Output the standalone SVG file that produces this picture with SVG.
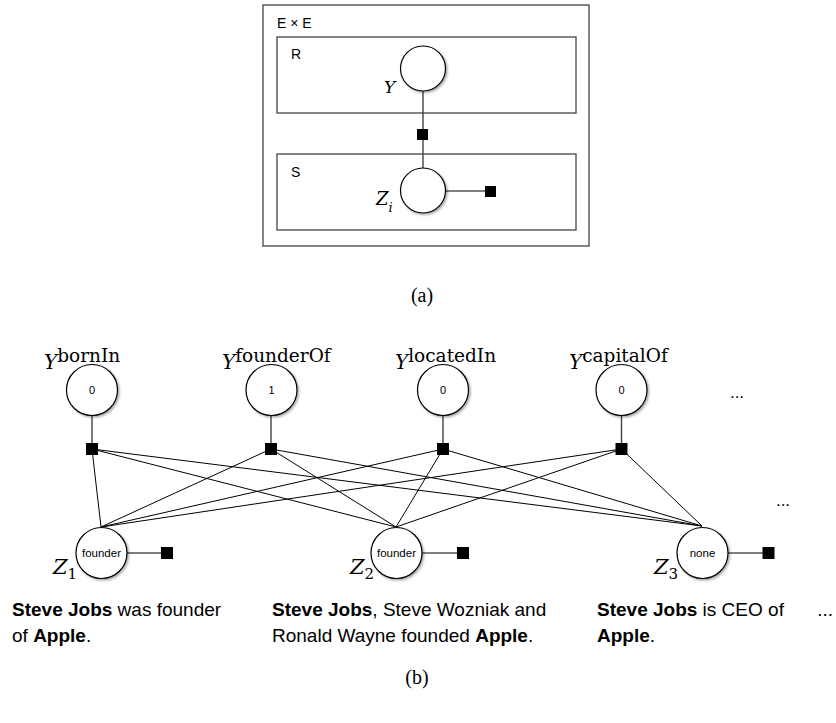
<svg xmlns="http://www.w3.org/2000/svg" width="836" height="723" viewBox="0 0 836 723">
  <style>
    .plate { fill: none; stroke: #444; stroke-width: 1.3; }
    .var { fill: #fff; stroke: #000; stroke-width: 1.2; filter: url(#shadow); }
    .fac { fill: #000; }
    .edge { stroke: #000; stroke-width: 1; fill: none; }
    .stem { stroke: #444; stroke-width: 1.4; fill: none; }
    .sans { font-family: "Liberation Sans", Arial, sans-serif; fill: #000; }
    .math { font-family: "DejaVu Serif", "Liberation Serif", serif; font-style: italic; fill: #000; }
    .up { font-family: "DejaVu Serif", "Liberation Serif", serif; font-style: normal; fill: #000; }
    .cap { font-family: "Liberation Serif", "Times New Roman", serif; font-size: 20px; fill: #000; }
    .b { font-weight: bold; }
  </style>
  <defs>
    <filter id="shadow" x="-30%" y="-30%" width="160%" height="160%">
      <feDropShadow dx="1.5" dy="1.5" stdDeviation="1" flood-color="#000" flood-opacity="0.35"/>
    </filter>
  </defs>
  <rect width="836" height="723" fill="#fff"/>

  <!-- (a) plate model -->
  <g id="plate-ExE">
    <rect class="plate" x="263" y="5" width="326" height="241"/>
    <text class="sans" x="277" y="28" font-size="14">E × E</text>
  </g>
  <g id="plate-R">
    <rect class="plate" x="277" y="37" width="299" height="76"/>
    <text class="sans" x="291" y="59" font-size="14">R</text>
  </g>
  <g id="plate-S">
    <rect class="plate" x="277" y="154" width="299" height="76"/>
    <text class="sans" x="291" y="177" font-size="14">S</text>
  </g>

  <g id="connectors-a">
    <line class="stem" x1="423" y1="91" x2="423" y2="168"/>
    <line class="edge" x1="446" y1="191" x2="490" y2="191"/>
  </g>

  <g id="node-Y">
    <circle class="var" cx="423" cy="68.5" r="22.5"/>
    <text class="math" x="384" y="93" font-size="17">Y</text>
  </g>
  <g id="factor-YZ">
    <rect class="fac" x="417" y="129" width="11" height="11"/>
  </g>
  <g id="node-Zi">
    <circle class="var" cx="423" cy="190.5" r="22.5"/>
    <text class="math" x="376" y="205" font-size="18">Z<tspan font-size="13" dy="7">i</tspan></text>
  </g>
  <g id="factor-Zi">
    <rect class="fac" x="485" y="186" width="11" height="11"/>
  </g>

  <text class="cap" x="422" y="302" text-anchor="middle">(a)</text>

  <!-- (b) unrolled factor graph -->
  <g id="connectors-b">
    <line class="stem" x1="92" y1="415" x2="92" y2="449"/>
    <line class="stem" x1="271" y1="415" x2="271" y2="449"/>
    <line class="stem" x1="443" y1="415" x2="443" y2="449"/>
    <line class="stem" x1="621.5" y1="415" x2="621.5" y2="449"/>

    <line class="edge" x1="92" y1="449" x2="101" y2="527"/>
    <line class="edge" x1="92" y1="449" x2="396" y2="527"/>
    <line class="edge" x1="92" y1="449" x2="702" y2="526"/>

    <line class="edge" x1="271" y1="449" x2="101" y2="527"/>
    <line class="edge" x1="271" y1="449" x2="396" y2="527"/>
    <line class="edge" x1="271" y1="449" x2="702" y2="526"/>

    <line class="edge" x1="443" y1="449" x2="101" y2="527"/>
    <line class="edge" x1="443" y1="449" x2="396" y2="527"/>
    <line class="edge" x1="443" y1="449" x2="702" y2="526"/>

    <line class="edge" x1="621.5" y1="449" x2="101" y2="527"/>
    <line class="edge" x1="621.5" y1="449" x2="396" y2="527"/>
    <line class="edge" x1="621.5" y1="449" x2="702" y2="526"/>

    <line class="edge" x1="127" y1="553" x2="167" y2="553"/>
    <line class="edge" x1="422" y1="553" x2="463" y2="553"/>
    <line class="edge" x1="728" y1="553" x2="768" y2="553"/>
  </g>

  <g id="node-Y-bornIn">
    <circle class="var" cx="92" cy="390" r="25.5"/>
    <text class="sans" x="92" y="394" font-size="11" text-anchor="middle">0</text>
    <text x="44" y="369"><tspan class="math" font-size="20">Y</tspan><tspan class="up" font-size="18.5" dy="-7">bornIn</tspan></text>
  </g>
  <g id="node-Y-founderOf">
    <circle class="var" cx="271.5" cy="390" r="25.5"/>
    <text class="sans" x="271.5" y="394" font-size="11" text-anchor="middle">1</text>
    <text x="222" y="369"><tspan class="math" font-size="20">Y</tspan><tspan class="up" font-size="18.5" dy="-7">founderOf</tspan></text>
  </g>
  <g id="node-Y-locatedIn">
    <circle class="var" cx="443" cy="390" r="25.5"/>
    <text class="sans" x="443" y="394" font-size="11" text-anchor="middle">0</text>
    <text x="395" y="369"><tspan class="math" font-size="20">Y</tspan><tspan class="up" font-size="18.5" dy="-7">locatedIn</tspan></text>
  </g>
  <g id="node-Y-capitalOf">
    <circle class="var" cx="621.5" cy="390" r="25.5"/>
    <text class="sans" x="621.5" y="394" font-size="11" text-anchor="middle">0</text>
    <text x="569" y="369"><tspan class="math" font-size="20">Y</tspan><tspan class="up" font-size="18.5" dy="-7">capitalOf</tspan></text>
  </g>
  <text class="sans" x="737" y="398" font-size="17" text-anchor="middle">...</text>

  <g id="factor-bornIn"><rect class="fac" x="86" y="443" width="12" height="12"/></g>
  <g id="factor-founderOf"><rect class="fac" x="265" y="443" width="12" height="12"/></g>
  <g id="factor-locatedIn"><rect class="fac" x="437" y="443" width="12" height="12"/></g>
  <g id="factor-capitalOf"><rect class="fac" x="615.5" y="443" width="12" height="12"/></g>
  <text class="sans" x="783" y="506" font-size="17" text-anchor="middle">...</text>

  <g id="node-Z1">
    <circle class="var" cx="101.5" cy="553" r="25.5"/>
    <text class="sans" x="101.5" y="557" font-size="11.5" text-anchor="middle">founder</text>
    <text x="53" y="574"><tspan class="math" font-size="21">Z</tspan><tspan class="up" font-size="15" dy="5">1</tspan></text>
  </g>
  <g id="factor-Z1"><rect class="fac" x="161" y="547" width="12" height="12"/></g>

  <g id="node-Z2">
    <circle class="var" cx="396.5" cy="553" r="25.5"/>
    <text class="sans" x="396.5" y="557" font-size="11.5" text-anchor="middle">founder</text>
    <text x="350" y="574"><tspan class="math" font-size="21">Z</tspan><tspan class="up" font-size="15" dy="5">2</tspan></text>
  </g>
  <g id="factor-Z2"><rect class="fac" x="457" y="547" width="12" height="12"/></g>

  <g id="node-Z3">
    <circle class="var" cx="702.5" cy="553" r="25.5"/>
    <text class="sans" x="702.5" y="557" font-size="11.5" text-anchor="middle">none</text>
    <text x="654" y="574"><tspan class="math" font-size="21">Z</tspan><tspan class="up" font-size="15" dy="5">3</tspan></text>
  </g>
  <g id="factor-Z3"><rect class="fac" x="762.5" y="547" width="12" height="12"/></g>

  <g id="sentences">
    <text class="sans" x="12" y="616" font-size="19"><tspan class="b">Steve Jobs</tspan> was founder</text>
    <text class="sans" x="12" y="642" font-size="19">of <tspan class="b">Apple</tspan>.</text>
    <text class="sans" x="272" y="616" font-size="19"><tspan class="b">Steve Jobs</tspan>, Steve Wozniak and</text>
    <text class="sans" x="272" y="642" font-size="19">Ronald Wayne founded <tspan class="b">Apple</tspan>.</text>
    <text class="sans" x="597" y="616" font-size="19"><tspan class="b">Steve Jobs</tspan> is CEO of</text>
    <text class="sans" x="597" y="642" font-size="19"><tspan class="b">Apple</tspan>.</text>
    <text class="sans" x="833" y="616" font-size="19" text-anchor="end">...</text>
  </g>

  <text class="cap" x="417" y="684" text-anchor="middle">(b)</text>
</svg>
